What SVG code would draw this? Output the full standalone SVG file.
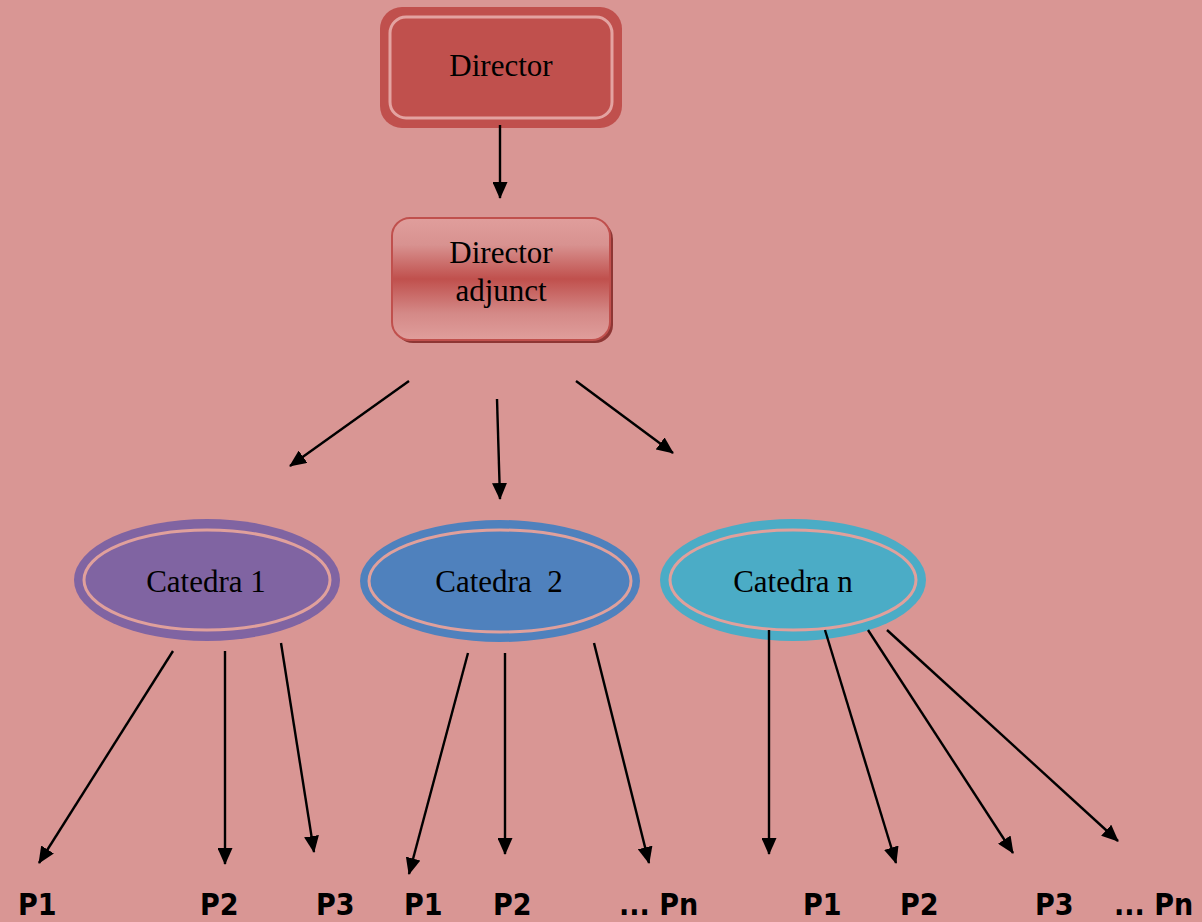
<svg xmlns="http://www.w3.org/2000/svg" width="1202" height="922" viewBox="0 0 1202 922">
<defs>
<linearGradient id="gAdj" x1="0" y1="0" x2="0" y2="1">
<stop offset="0" stop-color="#e09e9c"/>
<stop offset="0.22" stop-color="#d89290"/>
<stop offset="0.5" stop-color="#c0504d"/>
<stop offset="0.78" stop-color="#d48987"/>
<stop offset="1" stop-color="#e09e9c"/>
</linearGradient>
<marker id="ah" viewBox="0 0 17 15" refX="16" refY="7.5" markerWidth="17" markerHeight="15" markerUnits="userSpaceOnUse" orient="auto">
<path d="M0,0 L17,7.5 L0,15 Z" fill="#000"/>
</marker>
</defs>
<style>
.serif{font-family:"Liberation Serif","Times New Roman",serif;font-size:31px;fill:#000;text-anchor:middle}
.lbl{font-family:"DejaVu Sans Condensed","DejaVu Sans",Verdana,sans-serif;font-size:30px;font-weight:bold;fill:#000}
.con line{stroke:#000;stroke-width:2.4;marker-end:url(#ah)}
.ring{fill:none;stroke:#e0a09c;stroke-width:3}
</style>
<rect x="0" y="0" width="1202" height="922" fill="#d99694"/>

<g id="director">
<rect x="380" y="7" width="242" height="121" rx="22" fill="#c0504d"/>
<rect x="390" y="17" width="222" height="101" rx="16" fill="none" stroke="#e3a3a1" stroke-width="3"/>
<text class="serif" x="501" y="76">Director</text>
</g>

<g id="director-adjunct">
<rect x="395" y="221" width="218" height="122" rx="18" fill="#8e3634"/>
<rect x="392" y="218" width="218" height="122" rx="18" fill="url(#gAdj)" stroke="#c0504d" stroke-width="2"/>
<text class="serif" x="501" y="263">Director</text>
<text class="serif" x="501" y="301">adjunct</text>
</g>

<g id="catedra-1">
<ellipse cx="207" cy="580" rx="133" ry="61" fill="#8064a2"/>
<ellipse class="ring" cx="207" cy="580" rx="123" ry="50"/>
<text class="serif" x="206" y="592">Catedra 1</text>
</g>

<g id="catedra-2">
<ellipse cx="500" cy="581" rx="140" ry="61" fill="#4f81bd"/>
<ellipse class="ring" cx="500" cy="581" rx="131" ry="51"/>
<text class="serif" x="499" y="592" xml:space="preserve">Catedra  2</text>
</g>

<g id="catedra-n">
<ellipse cx="793" cy="580" rx="133" ry="61" fill="#4bacc6"/>
<ellipse class="ring" cx="793" cy="580" rx="123" ry="50"/>
<text class="serif" x="793" y="592">Catedra n</text>
</g>

<g id="connectors" class="con">
<line x1="500" y1="125" x2="500" y2="198"/>
<line x1="409" y1="381" x2="290" y2="466"/>
<line x1="497" y1="399" x2="500" y2="499"/>
<line x1="576" y1="381" x2="673" y2="453"/>
<line x1="173" y1="651" x2="39" y2="863"/>
<line x1="225" y1="651" x2="225" y2="864"/>
<line x1="281" y1="643" x2="314" y2="852"/>
<line x1="468" y1="653" x2="409" y2="874"/>
<line x1="505" y1="653" x2="505" y2="854"/>
<line x1="594" y1="643" x2="649" y2="863"/>
<line x1="769" y1="630" x2="769" y2="854"/>
<line x1="825" y1="630" x2="896" y2="863"/>
<line x1="868" y1="630" x2="1013" y2="853"/>
<line x1="887" y1="630" x2="1118" y2="841"/>
</g>

<g id="labels">
<text class="lbl" x="18" y="915">P1</text>
<text class="lbl" x="200" y="915">P2</text>
<text class="lbl" x="316" y="915">P3</text>
<text class="lbl" x="404" y="915">P1</text>
<text class="lbl" x="493" y="915">P2</text>
<text class="lbl" x="619" y="915">... Pn</text>
<text class="lbl" x="803" y="915">P1</text>
<text class="lbl" x="900" y="915">P2</text>
<text class="lbl" x="1035" y="915">P3</text>
<text class="lbl" x="1114" y="915">... Pn</text>
</g>
</svg>
